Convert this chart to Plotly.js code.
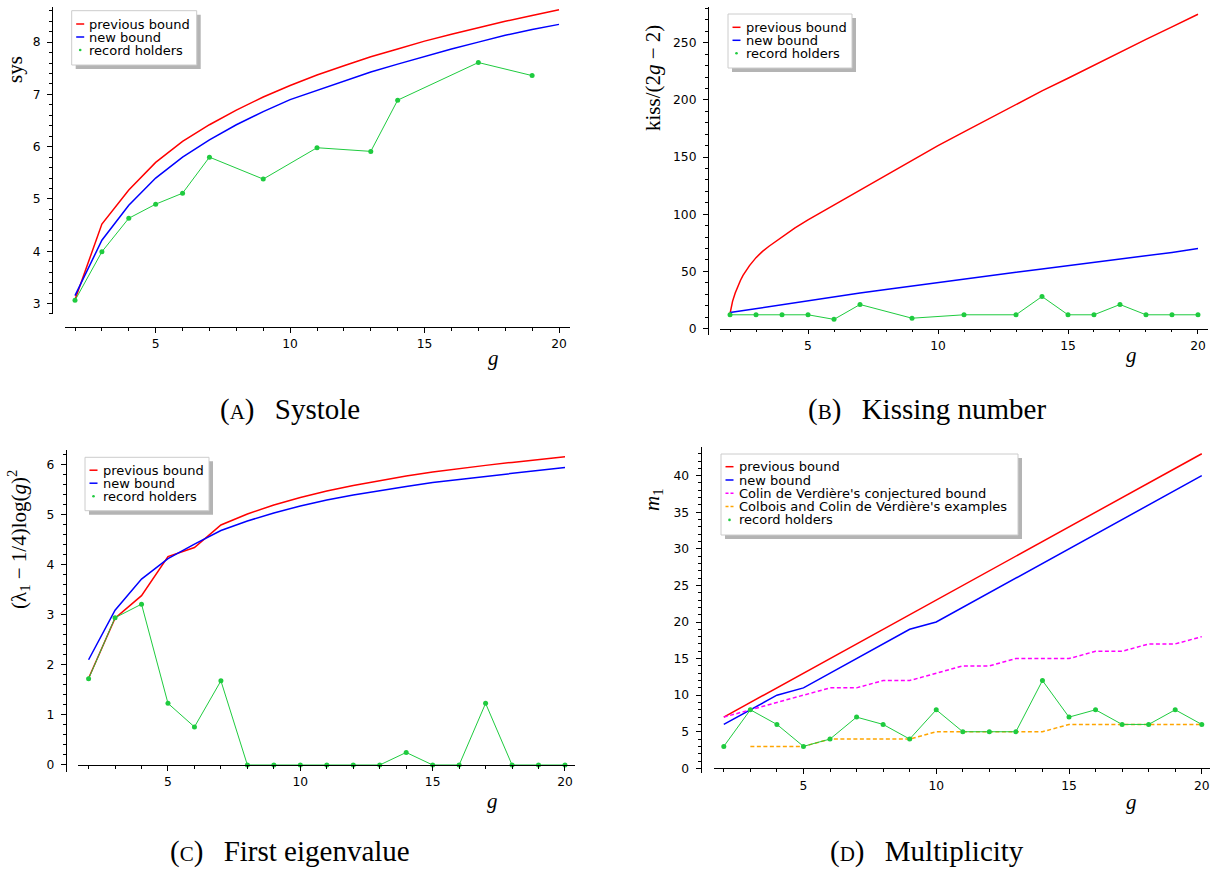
<!DOCTYPE html>
<html><head><meta charset="utf-8">
<script src="https://cdn.plot.ly/plotly-3.0.1.min.js"></script>
<style>html,body{margin:0;padding:0;background:#fff}#chart{width:1211px;height:874px}</style>
</head><body><div id="chart"></div><script>
// ---------- data ----------
const genus = [2,3,4,5,6,7,8,9,10,11,12,13,14,15,16,17,18,19,20];

// (A) Systole
const sysPrev = [3.07,4.52,5.17,5.70,6.10,6.42,6.70,6.95,7.17,7.37,7.55,7.72,7.87,8.02,8.15,8.28,8.40,8.51,8.62];
const sysNew  = [3.15,4.21,4.88,5.40,5.80,6.13,6.42,6.67,6.90,7.08,7.26,7.43,7.58,7.73,7.87,8.00,8.13,8.24,8.34];
const sysRecG = [2,3,4,5,6,7,9,11,13,14,17,19];
const sysRec  = [3.06,3.99,4.63,4.90,5.11,5.80,5.38,5.98,5.91,6.89,7.61,7.36];

// (B) Kissing number
const kissPrevG = [2,2.1,2.2,2.3,2.4,2.5,2.75,3,3.25,3.5,3.75,4,4.5,5,6,7,8,9,10,11,12,13,14,15,16,17,18,19,20];
const kissPrev  = [13,24,31,37,42,46.5,55,62,67.5,72,76,80.5,88,95,108,121,134,147,160,172,184,196,208,219,230.5,242,253,264,275];
const kissNew   = [14,17.5,21,24.5,27.8,31,34.2,37.3,40.3,43.3,46.3,49.2,52.1,55,57.8,60.6,63.3,66.6,70];
const kissRecG  = [2,3,4,5,6,7,9,11,13,14,15,16,17,18,19,20];
const kissRec   = [12,12,12,12,8,21,9,12,12,28,12,12,21,12,12,12];

// (C) First eigenvalue
const eigPrev = [1.73,2.93,3.38,4.16,4.34,4.79,5.01,5.19,5.34,5.47,5.58,5.68,5.77,5.85,5.92,5.98,6.04,6.10,6.15];
const eigNew  = [2.10,3.09,3.71,4.12,4.41,4.68,4.87,5.03,5.17,5.29,5.39,5.48,5.56,5.64,5.70,5.76,5.82,5.88,5.94];
const eigRec  = [1.72,2.94,3.21,1.23,0.76,1.68,0,0,0,0,0,0,0.25,0,0,1.23,0,0,0];

// (D) Multiplicity
const multPrev = [7,9,11,13,15,17,19,21,23,25,27,29,31,33,35,37,39,41,43];
const multNew  = [6,8,10,11,13,15,17,19,20,22,24,26,28,30,32,34,36,38,40];
const multConj = [7,8,9,10,11,11,12,12,13,14,14,15,15,15,16,16,17,17,18];
const multExG  = [3,4,5,6,7,8,9,10,11,12,13,14,15,16,17,18,19,20];
const multEx   = [3,3,3,4,4,4,4,5,5,5,5,5,6,6,6,6,6,6];
const multRec  = [3,8,6,3,4,7,6,4,8,5,5,5,12,7,8,6,6,8,6];

// labels
const legendBasic = ['previous bound','new bound','record holders'];
const legendMult  = ['previous bound','new bound',"Colin de Verdière's conjectured bound","Colbois and Colin de Verdière's examples",'record holders'];
const captions = ['A','Systole','B','Kissing number','C','First eigenvalue','D','Multiplicity'];

// ---------- styling / layout helpers ----------
const W = 1211, H = 874;
const fx = p => p / W;
const fy = p => 1 - p / H;
const RED = '#ff0000', BLUE = '#0000ff', GREEN = '#1fcb3f', MAG = '#ff00ff', ORA = '#ffa500';

function xAxis(left, right, r0, r1, yPix) {
  return {domain:[fx(left), fx(right)], range:[r0, r1], anchor:'free', position:fy(yPix), side:'bottom',
    showline:true, linecolor:'#000', linewidth:1, ticks:'outside', ticklen:4.5, tickwidth:1, tickcolor:'#000',
    tickmode:'linear', tick0:0, dtick:5, tickfont:{family:'DejaVu Sans', size:12.3, color:'#000'},
    showgrid:false, zeroline:false, ticklabelstandoff:1, fixedrange:true,
    minor:{tickmode:'linear', tick0:0, dtick:1, ticks:'outside', ticklen:2.5, tickwidth:1, tickcolor:'#000', showgrid:false}};
}
function yAxis(bottom, top, r0, r1, xPix, dt, mdt) {
  return {domain:[fy(bottom), fy(top)], range:[r0, r1], anchor:'free', position:fx(xPix), side:'left',
    showline:true, linecolor:'#000', linewidth:1, ticks:'outside', ticklen:5, tickwidth:1, tickcolor:'#000',
    tickmode:'linear', tick0:0, dtick:dt, tickfont:{family:'DejaVu Sans', size:12.3, color:'#000'},
    showgrid:false, zeroline:false, ticklabelstandoff:4, fixedrange:true,
    minor:{tickmode:'linear', tick0:0, dtick:mdt, ticks:'outside', ticklen:3, tickwidth:1, tickcolor:'#000', showgrid:false}};
}
function line(x, y, color, ax, dash) {
  return {type:'scatter', mode:'lines', x:x, y:y, xaxis:'x'+ax, yaxis:'y'+ax, showlegend:false, hoverinfo:'skip',
    line:{color:color, width:1.5, dash:dash || 'solid'}};
}
function rec(x, y, ax) {
  return {type:'scatter', mode:'lines+markers', x:x, y:y, xaxis:'x'+ax, yaxis:'y'+ax, showlegend:false, hoverinfo:'skip',
    line:{color:GREEN, width:1}, marker:{color:GREEN, size:5}};
}

const traces = [
  line(genus, sysPrev, RED, ''), line(genus, sysNew, BLUE, ''), rec(sysRecG, sysRec, ''),
  line(kissPrevG, kissPrev, RED, '2'), line(genus, kissNew, BLUE, '2'), rec(kissRecG, kissRec, '2'),
  line(genus, eigPrev, RED, '3'), line(genus, eigNew, BLUE, '3'), rec(genus, eigRec, '3'),
  line(genus, multPrev, RED, '4'), line(genus, multNew, BLUE, '4'),
  line(genus, multConj, MAG, '4', '4px,2.5px'), line(multExG, multEx, ORA, '4', '4px,2.5px'),
  rec(genus, multRec, '4')
];

const shapes = [];
const annotations = [];

function legendBox(l, t, r, b, rows, labels, colors, kinds) {
  shapes.push({type:'rect', xref:'paper', yref:'paper', x0:fx(l+4), x1:fx(r+4), y0:fy(b+4), y1:fy(t+4),
    fillcolor:'#b4b4b4', line:{width:0}});
  shapes.push({type:'rect', xref:'paper', yref:'paper', x0:fx(l), x1:fx(r), y0:fy(b), y1:fy(t),
    fillcolor:'#ffffff', line:{color:'#cccccc', width:1}});
  labels.forEach((lab, i) => {
    const y = rows[i];
    if (kinds[i] === 'dot') {
      shapes.push({type:'circle', xref:'paper', yref:'paper', x0:fx(l+7.2), x1:fx(l+9.8), y0:fy(y+1.3), y1:fy(y-1.3),
        fillcolor:colors[i], line:{width:0}});
    } else {
      shapes.push({type:'line', xref:'paper', yref:'paper', x0:fx(l+4.5), x1:fx(l+12.5), y0:fy(y), y1:fy(y),
        line:{color:colors[i], width:1.5, dash: kinds[i] === 'dash' ? '3px,2px' : 'solid'}});
    }
    annotations.push({xref:'paper', yref:'paper', x:fx(l+15.5), y:fy(y), xanchor:'left', yanchor:'middle',
      text:lab, showarrow:false, font:{family:'DejaVu Sans', size:13, color:'#000'}});
  });
}
const basicColors = [RED, BLUE, GREEN], basicKinds = ['line','line','dot'];
legendBox(71.7, 10.7, 196.7, 65, [24, 37, 50], legendBasic, basicColors, basicKinds);
legendBox(728, 14, 852, 68, [27.3, 40.3, 53.3], legendBasic, basicColors, basicKinds);
legendBox(85, 457.3, 209, 510.7, [470.2, 483.2, 496.2], legendBasic, basicColors, basicKinds);
legendBox(721, 454, 1018, 535, [466.7, 480, 493.3, 506.6, 519.9], legendMult,
  [RED, BLUE, MAG, ORA, GREEN], ['line','line','dash','dash','dot']);

function ylab(x, y, text) {
  annotations.push({xref:'paper', yref:'paper', x:fx(x), y:fy(y), xanchor:'center', yanchor:'middle', textangle:-90,
    text:text, showarrow:false, font:{family:'Liberation Serif', size:21, color:'#000'}});
}
function xlab(x, y) {
  annotations.push({xref:'paper', yref:'paper', x:fx(x), y:fy(y), xanchor:'center', yanchor:'middle',
    text:'<i>g</i>', showarrow:false, font:{family:'Liberation Serif', size:21, color:'#000'}});
}
function caption(x, y, letter, title) {
  annotations.push({xref:'paper', yref:'paper', x:fx(x), y:fy(y), xanchor:'center', yanchor:'middle',
    text:'(<span style="font-size:21px">' + letter + '</span>)\u2002\u2009' + title, showarrow:false,
    font:{family:'Liberation Serif', size:29, color:'#000'}});
}
ylab(15, 70, 'sys');
ylab(653, 78, 'kiss/(2<i>g</i> − 2)');
ylab(18, 540, '(λ<sub>1</sub> − 1/4)log(<i>g</i>)<sup>2</sup>');
ylab(653, 499, '<i>m</i><sub>1</sub>');
xlab(493, 358); xlab(1131, 355); xlab(492, 801); xlab(1131, 802);
caption(290, 409, captions[0], captions[1]);
caption(927, 409, captions[2], captions[3]);
caption(290, 851, captions[4], captions[5]);
caption(926.5, 851, captions[6], captions[7]);

const layout = {
  width:W, height:H, margin:{l:0, r:0, t:0, b:0}, paper_bgcolor:'#fff', plot_bgcolor:'rgba(0,0,0,0)',
  showlegend:false, font:{family:'DejaVu Sans', color:'#000'},
  xaxis:  xAxis(65, 570, 1.628, 20.409, 327),
  yaxis:  yAxis(314, 6.6, 2.799, 8.68, 52, 1, 0.2),
  xaxis2: xAxis(720, 1208, 1.615, 20.385, 328.5),
  yaxis2: yAxis(335, 7.3, -5.69, 281.1, 708, 50, 10),
  xaxis3: xAxis(78.4, 574.6, 1.615, 20.363, 765),
  yaxis3: yAxis(771.7, 450, -0.134, 6.287, 65.7, 1, 0.2),
  xaxis4: xAxis(713.5, 1210, 1.612, 20.31, 768.3),
  yaxis4: yAxis(773.3, 446.7, -0.68, 43.96, 700.5, 5, 1),
  shapes:shapes, annotations:annotations
};
Plotly.newPlot('chart', traces, layout, {displayModeBar:false, staticPlot:true});
</script></body></html>
